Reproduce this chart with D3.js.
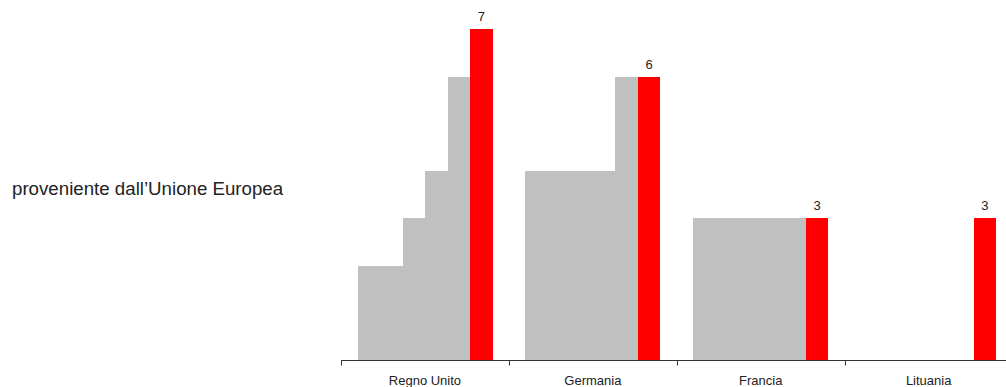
<!DOCTYPE html>
<html>
<head>
<meta charset="utf-8">
<script src="https://cdn.jsdelivr.net/npm/d3@7"></script>
<style>
  html, body { margin: 0; padding: 0; background: #fff; }
  svg { display: block; font-family: "Liberation Sans", Arial, sans-serif; }
</style>
</head>
<body>
<svg id="chart" width="1006" height="387"></svg>
<script>
const categories = ["Regno Unito", "Germania", "Francia", "Lituania"];
const series1 = [2, 4, 3, 0];
const series2 = [2, 4, 3, 0];
const series3 = [3, 4, 3, 0];
const series4 = [4, 4, 3, 0];
const series5 = [6, 6, 3, 0];
const series6 = [7, 6, 3, 3];
const seriesList = [series1, series2, series3, series4, series5, series6];
const seriesColors = ["#c0c0c0", "#c0c0c0", "#c0c0c0", "#c0c0c0", "#c0c0c0", "#ff0000"];
const sideLabel = "proveniente dall\u2019Unione Europea";

const svg = d3.select("#chart");
const W = 1006, H = 387;
const x0 = 341, step = 167.9;
const baseY = 360, topY = 29.3;

const x = d3.scaleBand().domain(categories).range([x0, x0 + step * categories.length]).padding(0);
const xi = d3.scaleBand().domain(d3.range(seriesList.length)).range([16.5, 151.5]).padding(0);
const y = d3.scaleLinear().domain([0, 7]).range([baseY, topY]);

const groups = svg.selectAll("g.cat").data(categories).enter().append("g")
  .attr("class", "cat")
  .attr("transform", d => `translate(${x(d)},0)`);

groups.each(function(cat, ci) {
  const g = d3.select(this);
  seriesList.forEach((s, si) => {
    const v = s[ci];
    if (v > 0) {
      g.append("rect")
        .attr("x", xi(si))
        .attr("y", y(v))
        .attr("width", xi.bandwidth() + (si < seriesList.length - 1 ? 0.5 : 0))
        .attr("height", y(0) - y(v))
        .attr("fill", seriesColors[si])
        .attr("shape-rendering", "crispEdges");
    }
  });
  const last = seriesList.length - 1;
  g.append("text")
    .attr("x", xi(last) + xi.bandwidth() / 2)
    .attr("y", y(series6[ci]) - 8)
    .attr("text-anchor", "middle")
    .attr("font-size", "13px")
    .attr("fill", "#222")
    .text(series6[ci]);
});

// x axis
const axis = d3.axisBottom(x).tickSize(0).tickFormat(d => d);
const ax = svg.append("g").attr("transform", `translate(0,${baseY + 0.5})`).call(axis);
ax.select(".domain").attr("d", `M${x0},0H${W + 10}`).attr("stroke", "#333");
ax.selectAll(".tick text").attr("dy", 0).attr("y", 24.5).attr("font-size", "13px").attr("fill", "#222")
  .attr("font-family", "Liberation Sans, Arial, sans-serif");
// tick marks at band starts
svg.append("g").selectAll("line").data(categories).enter().append("line")
  .attr("x1", d => Math.round(x(d)) + 0.5)
  .attr("x2", d => Math.round(x(d)) + 0.5)
  .attr("y1", baseY + 0.5)
  .attr("y2", baseY + 5.5)
  .attr("stroke", "#333");

svg.append("text")
  .attr("x", 12)
  .attr("y", 195)
  .attr("font-size", "18.7px")
  .attr("fill", "#222")
  .text(sideLabel);
</script>
</body>
</html>
